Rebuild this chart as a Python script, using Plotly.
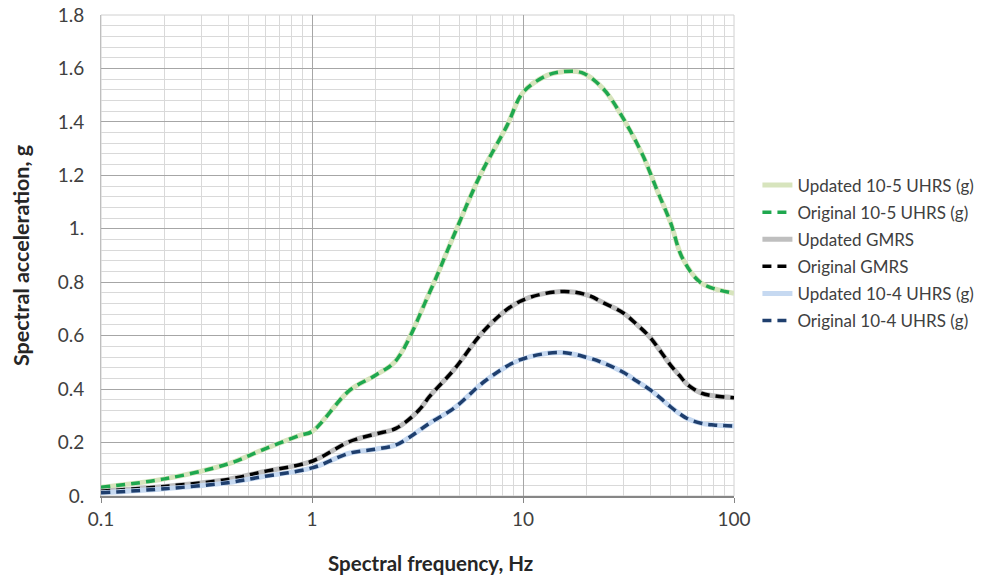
import plotly.graph_objects as go

# Frequencies (Hz) and spectral accelerations (g)
freq_5 = [0.1, 0.2, 0.4, 0.58, 0.88, 1.0, 1.5, 2.0, 2.5, 3.6, 4.7, 6.25, 8.4, 10, 13, 15.5, 19, 24, 30, 37, 43, 50, 57, 70, 100]
uhrs_5 = [0.033, 0.064, 0.12, 0.172, 0.228, 0.241, 0.394, 0.452, 0.507, 0.76, 0.975, 1.198, 1.386, 1.51, 1.574, 1.588, 1.584, 1.524, 1.41, 1.274, 1.148, 1.024, 0.89, 0.797, 0.759]

freq_g = [0.1, 0.2, 0.4, 0.58, 1.0, 1.5, 2.0, 2.5, 3.2, 3.6, 4.7, 6.7, 9.65, 15, 20, 24.2, 30, 34.6, 40, 45, 50, 55, 60, 70, 80, 100]
gmrs = [0.018, 0.036, 0.062, 0.09, 0.13, 0.203, 0.232, 0.253, 0.32, 0.372, 0.472, 0.628, 0.728, 0.765, 0.753, 0.722, 0.684, 0.642, 0.594, 0.54, 0.49, 0.452, 0.418, 0.385, 0.375, 0.368]

freq_4 = [0.1, 0.2, 0.4, 0.58, 1.0, 1.5, 2.0, 2.5, 2.9, 3.6, 4.7, 6.7, 9.65, 14.9, 20, 24.2, 30, 34.6, 40, 45, 50, 55, 60, 70, 80, 100]
uhrs_4 = [0.012, 0.027, 0.05, 0.072, 0.105, 0.16, 0.175, 0.191, 0.22, 0.272, 0.328, 0.434, 0.509, 0.537, 0.519, 0.497, 0.462, 0.43, 0.398, 0.365, 0.334, 0.309, 0.29, 0.272, 0.266, 0.262]

y_ticks = [0, 0.2, 0.4, 0.6, 0.8, 1.0, 1.2, 1.4, 1.6, 1.8]
y_tick_text = ["0.", "0.2", "0.4", "0.6", "0.8", "1.", "1.2", "1.4", "1.6", "1.8"]
x_ticks = [0.1, 1, 10, 100]
x_tick_text = ["0.1", "1", "10", "100"]

FONT = "Lato, 'Open Sans', sans-serif"

fig = go.Figure()

def add(x, y, name, color, width, dash, group):
    fig.add_trace(go.Scatter(
        x=x, y=y, name=name, mode="lines", legendgroup=group,
        line=dict(color=color, width=width, dash=dash, shape="spline", smoothing=1.0),
    ))

add(freq_5, uhrs_5, "Updated 10-5 UHRS (g)", "#d7e4bd", 5, "solid", "a")
add(freq_5, uhrs_5, "Original 10-5 UHRS (g)", "#1fa84f", 3.5, "9px,6px", "b")
add(freq_g, gmrs, "Updated GMRS", "#bfbfbf", 5, "solid", "c")
add(freq_g, gmrs, "Original GMRS", "#000000", 3.5, "9px,6px", "d")
add(freq_4, uhrs_4, "Updated 10-4 UHRS (g)", "#c6d9f1", 5, "solid", "e")
add(freq_4, uhrs_4, "Original 10-4 UHRS (g)", "#1f3f6e", 3.5, "9px,6px", "f")

fig.update_layout(
    width=989, height=582,
    margin=dict(l=101, r=255, t=15, b=86, autoexpand=False),
    paper_bgcolor="white", plot_bgcolor="white",
    font=dict(family=FONT, color="#404040"),
    legend=dict(
        x=1.037, y=0.683, xanchor="left", yanchor="top",
        font=dict(size=17, color="#404040", family=FONT),
        tracegroupgap=2, bgcolor="rgba(0,0,0,0)",
    ),
    showlegend=True,
    annotations=[dict(
        text="<b>Spectral frequency, Hz</b>", xref="paper", yref="paper",
        x=0.52, y=-0.139, xanchor="center", yanchor="middle", showarrow=False,
        font=dict(size=20.5, color="#262626", family=FONT),
    )],
)

fig.update_xaxes(
    type="log", range=[-1, 2], automargin=False,
    tickvals=x_ticks, ticktext=x_tick_text,
    tickfont=dict(size=19, color="#404040"),
    ticklabeloverflow="allow",
    showgrid=True, gridcolor="#a6a6a6", gridwidth=1,
    minor=dict(dtick="D1", showgrid=True, gridcolor="#d9d9d9", gridwidth=1),
    showline=True, linecolor="#868686", linewidth=2,
    ticks="outside", ticklen=5, tickcolor="#868686",
    mirror=False, zeroline=False,
)
fig.update_yaxes(
    range=[0, 1.8], automargin=False,
    tickvals=y_ticks, ticktext=y_tick_text,
    tickfont=dict(size=19, color="#404040"),
    ticklabeloverflow="allow",
    showgrid=True, gridcolor="#a6a6a6", gridwidth=1,
    minor=dict(dtick=0.04, showgrid=True, gridcolor="#d9d9d9", gridwidth=1),
    showline=True, linecolor="#bfbfbf", linewidth=1,
    ticks="", zeroline=False, ticklabelstandoff=12,
    title=dict(text="<b>Spectral acceleration, g</b>", font=dict(size=21.5, color="#262626"), standoff=22),
)

# light border on top and right
fig.add_shape(type="rect", xref="paper", yref="paper", x0=0, y0=0, x1=1, y1=1,
              line=dict(color="#d0d0d0", width=1), layer="below")

fig.write_html("out.html", config={"displayModeBar": False},
               post_script="document.body.style.margin='0';")
